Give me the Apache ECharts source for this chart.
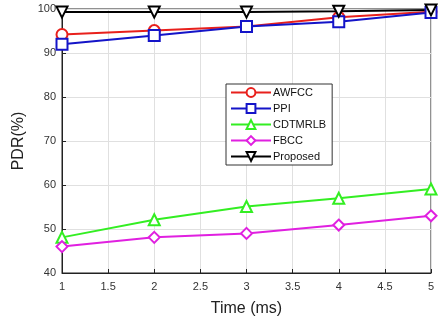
<!DOCTYPE html>
<html>
<head>
<meta charset="utf-8">
<title>PDR vs Time</title>
<script src="https://cdn.jsdelivr.net/npm/echarts@6/dist/echarts.min.js"></script>
<style>
	html, body { margin: 0; padding: 0; background: #fff; }
	#chart { width: 442px; height: 322px; }
</style>
</head>
<body>
<div id="chart"></div>
<script>
	// 数据
	var times = [1, 2, 3, 4, 5];
	var awfcc = [94.2, 95.1, 96, 98.1, 99.4];
	var ppi = [92, 94, 96, 97.1, 99.2];
	var cdtmrlb = [48.1, 52.1, 55.1, 57, 59.1];
	var fbcc = [46, 48.1, 49, 50.9, 53];
	var proposed = [99.3, 99.3, 99.3, 99.5, 99.8];

	function pairs(vals) {
		return times.map(function (t, i) { return [t, vals[i]]; });
	}

	function mkSeries(name, vals, color, symbol, rotate) {
		return {
			name: name,
			type: 'line',
			data: pairs(vals),
			symbol: symbol,
			symbolSize: 11,
			symbolRotate: rotate || 0,
			lineStyle: { color: color, width: 2 },
			itemStyle: { color: color, borderColor: color, borderWidth: 2 },
			z: 3
		};
	}

	var myChart = echarts.init(document.getElementById('chart'));
	var option = {
		animation: false,
		backgroundColor: '#fff',
		grid: {
			left: 62, right: 11, top: 9, bottom: 47,
			show: true, borderColor: '#222', borderWidth: 1
		},
		legend: {
			orient: 'vertical',
			left: 226, top: 84,
			width: 107,
			padding: [3, 6, 3, 4],
			itemWidth: 40, itemHeight: 11, itemGap: 5,
			backgroundColor: '#fff',
			borderColor: '#333', borderWidth: 1,
			textStyle: { fontFamily: 'Liberation Sans, Arial', fontSize: 11, color: '#111', padding: [0, 0, 0, -3] },
			data: ['AWFCC', 'PPI', 'CDTMRLB', 'FBCC', 'Proposed']
		},
		xAxis: {
			type: 'value', min: 1, max: 5, interval: 0.5,
			name: 'Time (ms)', nameLocation: 'middle', nameGap: 28,
			nameTextStyle: { fontFamily: 'Liberation Sans, Arial', fontSize: 16, color: '#222' },
			axisLine: { lineStyle: { color: '#222' } },
			axisTick: { inside: true, length: 4, lineStyle: { color: '#222' } },
			axisLabel: { fontFamily: 'Liberation Sans, Arial', fontSize: 11, color: '#333', margin: 8 },
			splitLine: { show: true, lineStyle: { color: '#e0e0e0' } }
		},
		yAxis: {
			type: 'value', min: 40, max: 100, interval: 10,
			name: 'PDR(%)', nameLocation: 'middle', nameGap: 34,
			nameTextStyle: { fontFamily: 'Liberation Sans, Arial', fontSize: 16, color: '#222' },
			axisLine: { show: true, lineStyle: { color: '#222' } },
			axisTick: { show: true, inside: true, length: 4, lineStyle: { color: '#222' } },
			axisLabel: { fontFamily: 'Liberation Sans, Arial', fontSize: 11, color: '#333', margin: 6 },
			splitLine: { show: true, lineStyle: { color: '#e0e0e0' } }
		},
		series: [
			mkSeries('AWFCC', awfcc, '#e8201c', 'emptyCircle'),
			mkSeries('PPI', ppi, '#1414c8', 'emptyRect'),
			mkSeries('CDTMRLB', cdtmrlb, '#33ee22', 'emptyTriangle'),
			mkSeries('FBCC', fbcc, '#e020e0', 'emptyDiamond'),
			mkSeries('Proposed', proposed, '#000000', 'emptyTriangle', 180)
		]
	};
	myChart.setOption(option, true);
</script>
</body>
</html>
